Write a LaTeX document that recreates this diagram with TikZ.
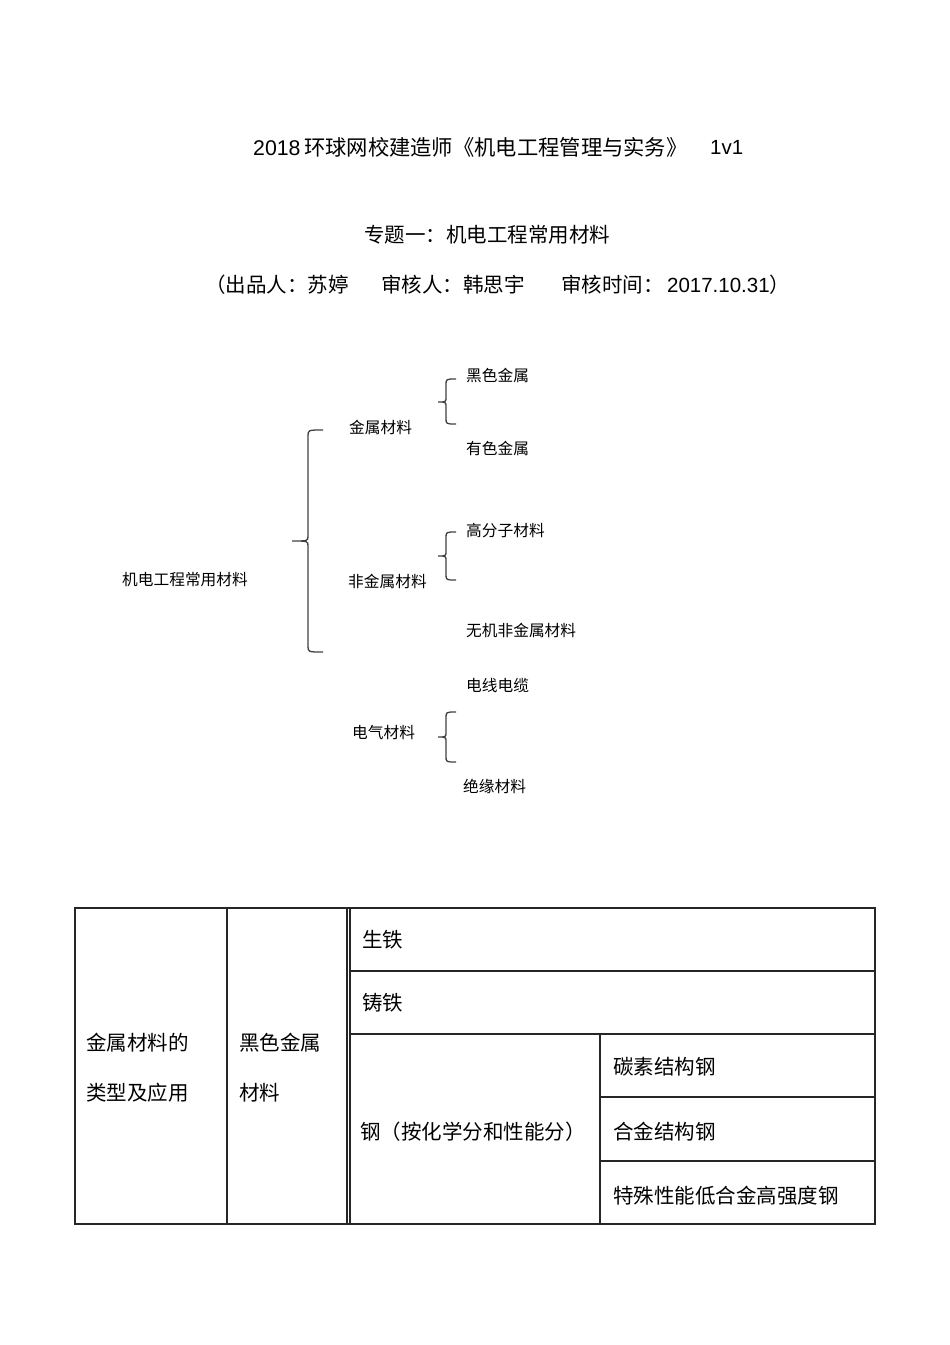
\documentclass[tikz,border=0pt]{standalone}
\usepackage{fontspec}
\setmainfont{Noto Sans CJK SC}
\newfontfamily\lat{Liberation Sans}
\usetikzlibrary{positioning}

\tikzset{
  lbl/.style={anchor=west, inner sep=0pt, font=\fontsize{15.7}{18}\selectfont},
  ttl/.style={anchor=west, inner sep=0pt, font=\fontsize{20.5}{24}\selectfont},
  cell/.style={anchor=west, inner sep=0pt, font=\fontsize{20.5}{24}\selectfont},
  brc/.style={draw=black!75, line width=1.3pt},
  rule/.style={draw=black!85, line width=1.3pt}
}
% tip x, spine x, end x, top y, tip y, bottom y
\newcommand\curlybrace[6]{%
  \draw[brc] (#3,#4) .. controls (#2,#4) .. (#2,#4+6) -- (#2,#5-5)
    .. controls (#2,#5) .. (#1,#5) .. controls (#2,#5) .. (#2,#5+5)
    -- (#2,#6-6) .. controls (#2,#6) .. (#3,#6);}

\begin{document}
\begin{tikzpicture}[x=1pt, y=-1pt]
  \useasboundingbox (0,0) rectangle (950,1345);

  % En-tete
  \node[ttl, font=\fontsize{21.3}{24}\selectfont] (t1) at (253,147) {{\lat 2018}\,环球网校建造师《机电工程管理与实务》};
  \node[ttl] (t1b) at (710,147) {\lat 1v1};
  \node[ttl, anchor=center] (t2) at (487,235) {专题一：机电工程常用材料};
  \node[ttl] (t3a) at (205,285) {（出品人：苏婷};
  \node[ttl] (t3b) at (381,285) {审核人：韩思宇};
  \node[ttl] (t3c) at (561,285) {审核时间：\,{\lat 2017.10.31}）};

  % Arbre des materiaux
  \node[lbl] (root) at (122,580) {机电工程常用材料};
  \node[lbl] (metal) at (349,427) {金属材料};
  \node[lbl] (nonmetal) at (348,581) {非金属材料};
  \node[lbl] (elec) at (352,732) {电气材料};
  \node[lbl] (black) at (466,375) {黑色金属};
  \node[lbl] (color) at (466,448) {有色金属};
  \node[lbl] (poly) at (466,531) {高分子材料};
  \node[lbl] (inorg) at (466,630) {无机非金属材料};
  \node[lbl] (wire) at (466,686) {电线电缆};
  \node[lbl] (insul) at (463,786) {绝缘材料};

  % Accolades
  \curlybrace{292}{308}{323}{430}{541}{652}
  \curlybrace{438}{446}{456}{379}{402}{424}
  \curlybrace{438}{446}{456}{532}{556}{580}
  \curlybrace{438}{446}{456}{712}{737}{762}

  % Tableau
  \draw[rule] (75,908) rectangle (875,1224);
  \draw[rule] (227,908) -- (227,1224);
  \draw[rule] (347,908) -- (347,1224);
  \draw[rule] (350,908) -- (350,1224);
  \draw[rule] (350,971) -- (875,971);
  \draw[rule] (350,1034) -- (875,1034);
  \draw[rule] (600,1034) -- (600,1224);
  \draw[rule] (600,1097) -- (875,1097);
  \draw[rule] (600,1161) -- (875,1161);

  \node[cell] (c1a) at (86,1043) {金属材料的};
  \node[cell] (c1b) at (86,1093) {类型及应用};
  \node[cell] (c2a) at (239,1043) {黑色金属};
  \node[cell] (c2b) at (239,1093) {材料};
  \node[cell] (pig) at (362,940) {生铁};
  \node[cell] (cast) at (362,1003) {铸铁};
  \node[cell] (steel) at (360,1132) {钢（按化学分和性能分）};
  \node[cell] (carbon) at (613,1067) {碳素结构钢};
  \node[cell] (alloy) at (613,1132) {合金结构钢};
  \node[cell] (hsla) at (613,1196) {特殊性能低合金高强度钢};
\end{tikzpicture}
\end{document}
